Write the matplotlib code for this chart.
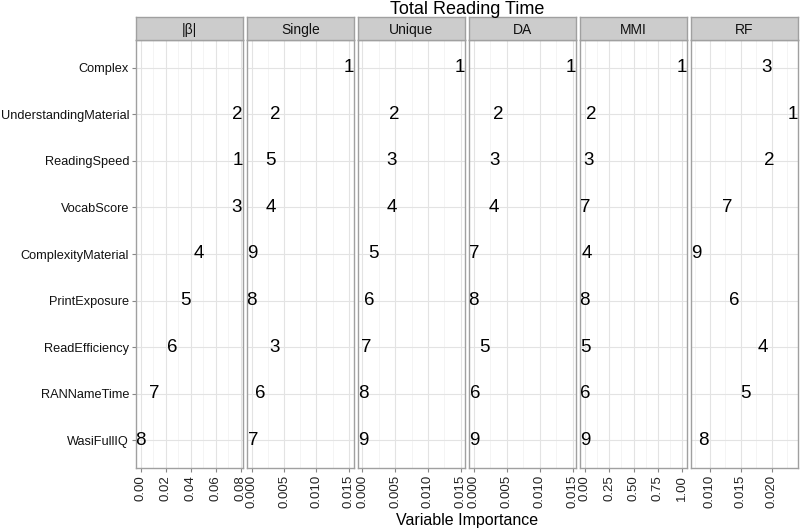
import numpy as np
import matplotlib
matplotlib.use("Agg")
import matplotlib.pyplot as plt
from matplotlib.ticker import FixedLocator

plt.rcParams['font.family'] = ['Liberation Sans', 'DejaVu Sans']

categories = ["Complex", "UnderstandingMaterial", "ReadingSpeed", "VocabScore",
              "ComplexityMaterial", "PrintExposure", "ReadEfficiency",
              "RANNameTime", "WasiFullIQ"]

panels = ["|β|", "Single", "Unique", "DA", "MMI", "RF"]

beta_vals = [np.nan, 0.0773, 0.0780, 0.0768, 0.0463, 0.0356, 0.0250, 0.0108, 0.0000]
beta_rank = [None, 2, 1, 3, 4, 5, 6, 7, 8]

single_vals = [0.01505, 0.00363, 0.00295, 0.00295, 0.0000, 0.0000, 0.00357, 0.0013, 0.0002]
single_rank = [1, 2, 5, 4, 9, 8, 3, 6, 7]

unique_vals = [0.0149, 0.00487, 0.00451, 0.00451, 0.00164, 0.00103, 0.0006, 0.00015, 0.0001]
unique_rank = [1, 2, 3, 4, 5, 6, 7, 8, 9]

da_vals = [0.01479, 0.00367, 0.0031, 0.0031, 0.0001, 0.0000, 0.00155, 0.00025, 0.0000]
da_rank = [1, 2, 3, 4, 7, 8, 5, 6, 9]

mmi_vals = [1.0, 0.069, 0.034, 0.002, 0.017, 0.0, 0.003, 0.003, 0.0]
mmi_rank = [1, 2, 3, 7, 4, 8, 5, 6, 9]

rf_vals = [0.01912, 0.02347, 0.01956, 0.01288, 0.00772, 0.01386, 0.01853, 0.01577, 0.00897]
rf_rank = [3, 1, 2, 7, 9, 6, 4, 5, 8]

all_vals = [beta_vals, single_vals, unique_vals, da_vals, mmi_vals, rf_vals]
all_ranks = [beta_rank, single_rank, unique_rank, da_rank, mmi_rank, rf_rank]

x_ticks = [
    [0.00, 0.02, 0.04, 0.06, 0.08],
    [0.000, 0.005, 0.010, 0.015],
    [0.000, 0.005, 0.010, 0.015],
    [0.000, 0.005, 0.010, 0.015],
    [0.00, 0.25, 0.50, 0.75, 1.00],
    [0.010, 0.015, 0.020],
]
tick_fmt = ["{:.2f}", "{:.3f}", "{:.3f}", "{:.3f}", "{:.2f}", "{:.3f}"]

W, H = 800, 532
fig = plt.figure(figsize=(W / 100, H / 100), dpi=100)

panel_left0 = 136
panel_w = 107
panel_step = 111
top_px, bot_px = 40, 468
strip_top = 17

border_col = "#a0a0a0"
grid_major = "#e3e3e3"
grid_minor = "#f2f2f2"

n = len(categories)
ypos = np.arange(n)[::-1]  # Complex at top

for i, name in enumerate(panels):
    left = (panel_left0 + i * panel_step) / W
    ax = fig.add_axes([left, (H - bot_px) / H, panel_w / W, (bot_px - top_px) / H])
    vals = np.array(all_vals[i], dtype=float)
    ranks = all_ranks[i]
    lo, hi = np.nanmin(vals), np.nanmax(vals)
    pad = 0.05 * (hi - lo)
    ax.set_xlim(lo - pad, hi + pad)
    ax.set_ylim(-0.6, n - 1 + 0.6)

    ticks = x_ticks[i]
    ax.xaxis.set_major_locator(FixedLocator(ticks))
    step = ticks[1] - ticks[0]
    minors = [ticks[0] - step / 2] + [t + step / 2 for t in ticks]
    ax.xaxis.set_minor_locator(FixedLocator(minors))
    ax.set_xticklabels([tick_fmt[i].format(t) for t in ticks], rotation=90,
                       fontsize=9.5, color="#222222")
    ax.grid(True, which="major", axis="both", color=grid_major, lw=0.8, zorder=0)
    ax.grid(True, which="minor", axis="x", color=grid_minor, lw=0.6, zorder=0)
    ax.set_axisbelow(True)
    ax.tick_params(axis="x", which="major", length=3, color="#888888", pad=2)
    ax.tick_params(axis="x", which="minor", length=0)

    ax.set_yticks(ypos)
    if i == 0:
        ax.set_yticklabels(categories, fontsize=9.2, color="#111111")
        ax.tick_params(axis="y", length=3, color="#888888", pad=2)
    else:
        ax.set_yticklabels([])
        ax.tick_params(axis="y", length=0)

    for sp in ax.spines.values():
        sp.set_color(border_col)
        sp.set_linewidth(1.0)

    for v, r, y in zip(vals, ranks, ypos):
        if r is None or np.isnan(v):
            continue
        ax.text(v, y, str(r), ha="center", va="center", fontsize=13.5,
                color="black", zorder=3)

    # strip header
    sax = fig.add_axes([left, (H - top_px) / H, panel_w / W, (top_px - strip_top) / H])
    sax.set_facecolor("#cccccc")
    sax.set_xticks([])
    sax.set_yticks([])
    for sp in sax.spines.values():
        sp.set_color(border_col)
        sp.set_linewidth(1.0)
    sax.text(0.5, 0.45, name, transform=sax.transAxes, ha="center", va="center",
             fontsize=10, color="#111111")

center_x = (panel_left0 + (5 * panel_step + panel_w) / 2) / W
fig.text(center_x, 1 - 10 / H, "Total Reading Time", ha="center", va="center",
         fontsize=13, color="black")
fig.text(center_x, 1 - 521 / H, "Variable Importance", ha="center", va="center",
         fontsize=11.5, color="black")

fig.savefig("out.png", dpi=100)
